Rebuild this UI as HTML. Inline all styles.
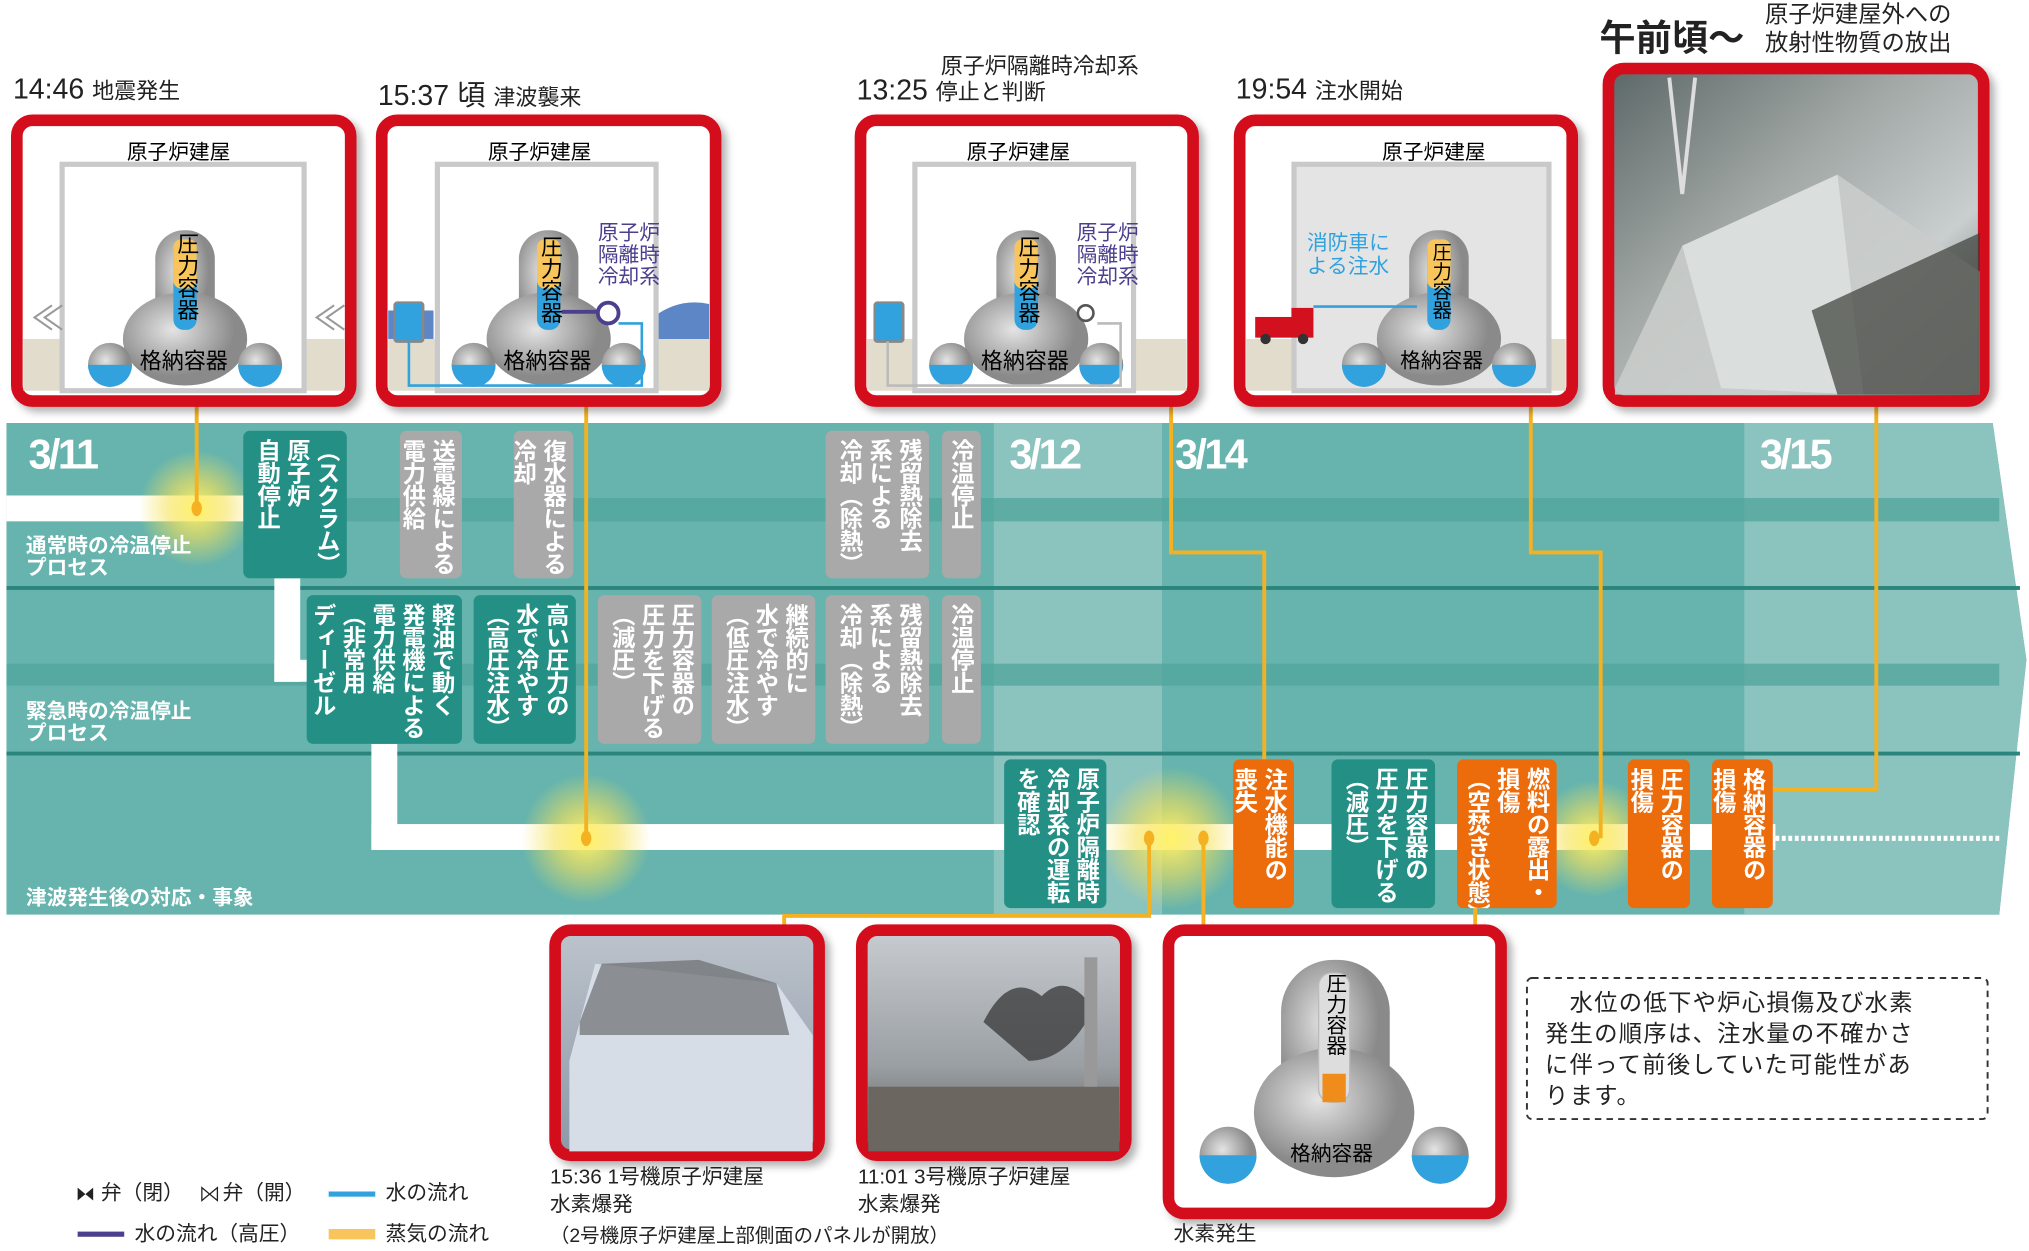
<!DOCTYPE html>
<html><head><meta charset="utf-8">
<style>
html,body{margin:0;padding:0;background:#fff;overflow:hidden}
#wrap{position:absolute;left:0;top:0;width:1568px;height:967px;transform-origin:0 0;transform:scale(1.29401,1.29369);font-family:"Liberation Sans","Noto Sans CJK JP",sans-serif}
.a{position:absolute;white-space:nowrap}
.v{position:absolute;writing-mode:vertical-rl;font-weight:bold;color:#fff;font-size:18px;line-height:23px;border-radius:5px;padding:6px 4px 0 0;box-sizing:border-box;white-space:nowrap;overflow:hidden;letter-spacing:-0.5px}
.t{background:#248f85}.g{background:#a9a9a9}.o{background:#ec6c0c}
.lab{position:absolute;color:#fff;font-weight:bold;font-size:16px;line-height:17px}
.d{position:absolute;color:#fff;font-weight:bold;font-size:32px;letter-spacing:-2px}
.tm{position:absolute;font-size:22px;color:#222;white-space:nowrap}
.cap{position:absolute;font-size:16px;color:#222;white-space:nowrap;line-height:21px}
</style></head><body>
<div id="wrap">
<svg width="1568" height="967" viewBox="0 0 1568 967" style="position:absolute;left:0;top:0">
<defs>
<radialGradient id="glow"><stop offset="0" stop-color="#fff36a" stop-opacity="1"/><stop offset="0.5" stop-color="#f6e25a" stop-opacity="0.6"/><stop offset="1" stop-color="#f6e25a" stop-opacity="0"/></radialGradient>
<radialGradient id="ves" cx="0.4" cy="0.4"><stop offset="0" stop-color="#e4e4e4"/><stop offset="1" stop-color="#8a8a8a"/></radialGradient>
<linearGradient id="ph1" x1="0" y1="0" x2="1" y2="1"><stop offset="0" stop-color="#5b6766"/><stop offset="0.4" stop-color="#a2a8a6"/><stop offset="0.7" stop-color="#c9cfcf"/><stop offset="1" stop-color="#4a4f4c"/></linearGradient>
<linearGradient id="ph2" x1="0" y1="0" x2="0" y2="1"><stop offset="0" stop-color="#bcc3cc"/><stop offset="1" stop-color="#8d98a6"/></linearGradient>
<linearGradient id="ph3" x1="0" y1="0" x2="0" y2="1"><stop offset="0" stop-color="#c8ccd0"/><stop offset="0.6" stop-color="#9a9fa4"/><stop offset="1" stop-color="#5d5a54"/></linearGradient>
<filter id="sh" x="-10%" y="-10%" width="130%" height="130%"><feDropShadow dx="4" dy="4" stdDeviation="3" flood-color="#000" flood-opacity="0.3"/></filter>
<g id="vessel">
<rect x="-23" y="178" width="46" height="80" rx="22" fill="url(#ves)"/>
<ellipse cx="0" cy="262" rx="48" ry="36" fill="url(#ves)"/>
<rect x="-9" y="185" width="18" height="70" rx="8" fill="#31a2dd"/>
<rect x="-9" y="185" width="18" height="38" rx="6" fill="#f7c55c"/>
<circle cx="-58" cy="282" r="17" fill="url(#ves)"/><path d="M-75,282 a17,17 0 0 0 34,0z" fill="#31a2dd"/>
<circle cx="58" cy="282" r="17" fill="url(#ves)"/><path d="M41,282 a17,17 0 0 0 34,0z" fill="#31a2dd"/>
</g>
</defs>

<path d="M5,327 H1540 L1566,510 L1545,707 H5 Z" fill="#66b4ad"/>
<rect x="768" y="327" width="130" height="380" fill="#8bc3bf"/>
<path d="M1348,327 H1540 L1566,510 L1545,707 H1348 Z" fill="#8bc3bf"/>
<rect x="5" y="385" width="1540" height="18" fill="#53a69e" opacity="0.8"/>
<rect x="5" y="513" width="1540" height="17" fill="#53a69e" opacity="0.8"/>
<rect x="5" y="453" width="1556" height="3" fill="#2b857c"/>
<rect x="5" y="581" width="1556" height="3" fill="#2b857c"/>
<rect x="5" y="383" width="185" height="20" fill="#fff"/>
<rect x="212" y="447" width="20" height="80" fill="#fff"/>
<rect x="212" y="510" width="28" height="17" fill="#fff"/>
<rect x="287" y="575" width="20" height="82" fill="#fff"/>
<rect x="287" y="637" width="1085" height="20" fill="#fff"/>
<line x1="1372" y1="648" x2="1545" y2="648" stroke="#fff" stroke-width="4" stroke-dasharray="3,2"/>
<circle cx="152" cy="393" r="45" fill="url(#glow)"/>
<circle cx="453" cy="648" r="50" fill="url(#glow)"/>
<circle cx="905" cy="648" r="55" fill="url(#glow)"/>
<circle cx="1232" cy="648" r="45" fill="url(#glow)"/>
<g stroke="#f4b223" stroke-width="3" fill="none">
<path d="M152,313 V393"/><path d="M453,313 V648"/>
<path d="M905,313 V427 H977 V587"/>
<path d="M1183,313 V427 H1237 V648"/>
<path d="M1450,313 V610 H1370"/>
<path d="M888,648 V708 H606 V716"/>
<path d="M930,648 V716"/>
<path d="M1140,702 V716"/>
</g>
<g fill="#f4b223"><ellipse cx="152" cy="393" rx="4" ry="6"/><ellipse cx="453" cy="648" rx="4" ry="6"/><ellipse cx="888" cy="648" rx="4" ry="6"/><ellipse cx="930" cy="648" rx="4" ry="6"/><ellipse cx="1232" cy="648" rx="4" ry="6"/></g>

<g filter="url(#sh)">
<rect x="13" y="93" width="258" height="217" rx="12" fill="#fff" stroke="#d3101e" stroke-width="9"/>
<rect x="295" y="93" width="258" height="217" rx="12" fill="#fff" stroke="#d3101e" stroke-width="9"/>
<rect x="665" y="93" width="257" height="217" rx="12" fill="#fff" stroke="#d3101e" stroke-width="9"/>
<rect x="958" y="93" width="257" height="217" rx="12" fill="#fff" stroke="#d3101e" stroke-width="9"/>
<rect x="1243" y="53" width="290" height="257" rx="12" fill="url(#ph1)" stroke="#d3101e" stroke-width="9"/>
<rect x="429" y="719" width="204" height="174" rx="12" fill="url(#ph2)" stroke="#d3101e" stroke-width="9"/>
<rect x="666" y="719" width="204" height="174" rx="12" fill="url(#ph3)" stroke="#d3101e" stroke-width="9"/>
<rect x="903" y="719" width="257" height="219" rx="12" fill="#fff" stroke="#d3101e" stroke-width="9"/>
</g>
<rect x="18" y="262" width="248" height="40" fill="#e2dccd"/>
<rect x="48" y="127" width="187" height="175" fill="#fff" stroke="#c9c9c9" stroke-width="4"/>
<use href="#vessel" x="143" y="0"/>
<text x="24" y="255" font-size="26" fill="#999">≪</text><text x="242" y="255" font-size="26" fill="#999">≪</text>
<rect x="300" y="262" width="248" height="40" fill="#e2dccd"/>
<rect x="300" y="240" width="35" height="22" fill="#5c86c6"/><path d="M505,262 V245 q20,-15 43,-10 V262z" fill="#5c86c6"/>
<rect x="338" y="127" width="169" height="175" fill="#fff" stroke="#c9c9c9" stroke-width="4"/>
<use href="#vessel" x="424" y="0"/>
<rect x="305" y="234" width="22" height="30" rx="2" fill="#31a2dd" stroke="#888" stroke-width="2"/>
<path d="M316,264 V298 H496 V250 H478" stroke="#31a2dd" stroke-width="2" fill="none"/>
<path d="M434,241 H462" stroke="#4b3f8e" stroke-width="3"/><circle cx="470" cy="242" r="8" fill="#fff" stroke="#4b3f8e" stroke-width="3"/>
<rect x="670" y="262" width="247" height="40" fill="#e2dccd"/>
<rect x="707" y="127" width="169" height="175" fill="#fff" stroke="#c9c9c9" stroke-width="4"/>
<use href="#vessel" x="793" y="0"/>
<rect x="676" y="234" width="22" height="30" rx="2" fill="#31a2dd" stroke="#888" stroke-width="2"/>
<path d="M686,264 V298 H866 V250 H848" stroke="#bbb" stroke-width="2" fill="none"/>
<circle cx="839" cy="242" r="6" fill="#fff" stroke="#555" stroke-width="2"/>
<rect x="963" y="262" width="247" height="40" fill="#e2dccd"/>
<rect x="1000" y="127" width="197" height="175" fill="#e4e4e4" stroke="#c9c9c9" stroke-width="4"/>
<use href="#vessel" x="1112" y="0"/>
<path d="M1015,237 H1095" stroke="#31a2dd" stroke-width="2"/>
<rect x="970" y="245" width="45" height="16" fill="#d3101e"/><rect x="998" y="238" width="17" height="10" fill="#d3101e"/>
<circle cx="978" cy="262" r="4" fill="#333"/><circle cx="1007" cy="262" r="4" fill="#333"/>
<path d="M1248,300 L1300,190 L1420,135 L1530,210 V305 H1248z" fill="#c9ccca" opacity="0.9"/>
<path d="M1330,300 L1300,190 L1420,135 L1440,305z" fill="#dfe3e2" opacity="0.8"/>
<path d="M1400,240 L1530,180 V305 H1420z" fill="#3b3d38" opacity="0.7"/>
<path d="M1290,60 L1300,150 M1310,60 L1300,150" stroke="#ddd" stroke-width="3"/>
<path d="M440,820 V890 H628 V800 L600,760 L460,745z" fill="#d7dde6"/>
<path d="M448,790 L465,745 L540,742 L600,760 L610,800 L448,800z" fill="#6b6d6f" opacity="0.7"/>
<path d="M760,790 q20,-40 45,-20 q20,-20 40,10 q-20,40 -50,40z" fill="#3e3e3e" opacity="0.8"/>
<rect x="671" y="840" width="194" height="50" fill="#6b6660"/>
<rect x="838" y="740" width="10" height="100" fill="#999"/>
<rect x="990" y="742" width="84" height="120" rx="40" fill="url(#ves)"/>
<ellipse cx="1031" cy="860" rx="62" ry="50" fill="url(#ves)"/>
<rect x="1019" y="752" width="24" height="100" rx="10" fill="#ddd" stroke="#bbb"/>
<rect x="1022" y="830" width="18" height="22" fill="#f08c1a"/>
<circle cx="949" cy="893" r="22" fill="url(#ves)"/><path d="M927,893 a22,22 0 0 0 44,0z" fill="#31a2dd"/>
<circle cx="1113" cy="893" r="22" fill="url(#ves)"/><path d="M1091,893 a22,22 0 0 0 44,0z" fill="#31a2dd"/>
<rect x="1180" y="756" width="356" height="109" rx="4" fill="#fff" stroke="#333" stroke-width="1.5" stroke-dasharray="5,4"/>
<path d="M60,918 l6,5 l-6,5z M72,918 l-6,5 l6,5z" fill="#222"/>
<path d="M156,918 l6,5 l-6,5z M168,918 l-6,5 l6,5z" fill="none" stroke="#222"/>
<rect x="254" y="921" width="36" height="4" fill="#31a2dd"/>
<rect x="60" y="952" width="36" height="4" fill="#4b3f8e"/>
<rect x="254" y="950" width="36" height="8" fill="#f7c55c"/>
</svg>

<div class="tm" style="left:10px;top:56px">14:46 <span style="font-size:17px">地震発生</span></div>
<div class="tm" style="left:292px;top:56px">15:37 頃 <span style="font-size:17px">津波襲来</span></div>
<div class="tm" style="left:727px;top:37px;font-size:17px">原子炉隔離時冷却系</div>
<div class="tm" style="left:662px;top:57px">13:25 <span style="font-size:17px">停止と判断</span></div>
<div class="tm" style="left:955px;top:56px">19:54 <span style="font-size:17px">注水開始</span></div>
<div class="tm" style="left:1236px;top:8px;font-size:28px;font-weight:bold">午前頃～</div>
<div class="tm" style="left:1364px;top:0px;font-size:18px;line-height:22px">原子炉建屋外への<br>放射性物質の放出</div>

<div class="a" style="left:98px;top:104px;font-size:16px">原子炉建屋</div>
<div class="a" style="left:377px;top:104px;font-size:16px">原子炉建屋</div>
<div class="a" style="left:747px;top:104px;font-size:16px">原子炉建屋</div>
<div class="a" style="left:1068px;top:104px;font-size:16px">原子炉建屋</div>
<div class="a" style="left:108px;top:265px;font-size:17px">格納容器</div>
<div class="a" style="left:389px;top:265px;font-size:17px">格納容器</div>
<div class="a" style="left:758px;top:265px;font-size:17px">格納容器</div>
<div class="a" style="left:1082px;top:265px;font-size:16px">格納容器</div>
<div class="a" style="left:134px;top:180px;font-size:17px;writing-mode:vertical-rl;line-height:18px">圧力容器</div>
<div class="a" style="left:415px;top:182px;font-size:17px;writing-mode:vertical-rl;line-height:18px">圧力容器</div>
<div class="a" style="left:784px;top:182px;font-size:17px;writing-mode:vertical-rl;line-height:18px">圧力容器</div>
<div class="a" style="left:1105px;top:187px;font-size:15px;writing-mode:vertical-rl;line-height:16px">圧力容器</div>
<div class="a" style="left:462px;top:172px;font-size:16px;line-height:17px;color:#4b3f8e">原子炉<br>隔離時<br>冷却系</div>
<div class="a" style="left:832px;top:172px;font-size:16px;line-height:17px;color:#4b3f8e">原子炉<br>隔離時<br>冷却系</div>
<div class="a" style="left:1010px;top:180px;font-size:16px;line-height:18px;color:#31a2dd">消防車に<br>よる注水</div>
<div class="a" style="left:1021px;top:752px;font-size:16px;writing-mode:vertical-rl;line-height:18px">圧力容器</div>
<div class="a" style="left:997px;top:878px;font-size:16px">格納容器</div>

<div class="d" style="left:22px;top:333px">3/11</div>
<div class="d" style="left:780px;top:333px">3/12</div>
<div class="d" style="left:908px;top:333px">3/14</div>
<div class="d" style="left:1360px;top:333px">3/15</div>
<div class="lab" style="left:20px;top:414px">通常時の冷温停止<br>プロセス</div>
<div class="lab" style="left:20px;top:542px">緊急時の冷温停止<br>プロセス</div>
<div class="lab" style="left:20px;top:686px">津波発生後の対応・事象</div>

<div class="v t" style="left:188px;top:333px;width:80px;height:114px">（スクラム）<br>原子炉<br>自動停止</div>
<div class="v g" style="left:309px;top:333px;width:48px;height:114px">送電線による<br>電力供給</div>
<div class="v g" style="left:397px;top:333px;width:46px;height:114px">復水器による<br>冷却</div>
<div class="v g" style="left:638px;top:333px;width:80px;height:114px">残留熱除去<br>系による<br>冷却（除熱）</div>
<div class="v g" style="left:728px;top:333px;width:30px;height:114px">冷温停止</div>
<div class="v t" style="left:237px;top:460px;width:120px;height:115px">軽油で動く<br>発電機による<br>電力供給<br>（非常用<br>ディーゼル<br>発電機）</div>
<div class="v t" style="left:366px;top:460px;width:79px;height:115px">高い圧力の<br>水で冷やす<br>（高圧注水）</div>
<div class="v g" style="left:462px;top:460px;width:80px;height:115px">圧力容器の<br>圧力を下げる<br>（減圧）</div>
<div class="v g" style="left:550px;top:460px;width:80px;height:115px">継続的に<br>水で冷やす<br>（低圧注水）</div>
<div class="v g" style="left:638px;top:460px;width:80px;height:115px">残留熱除去<br>系による<br>冷却（除熱）</div>
<div class="v g" style="left:728px;top:460px;width:30px;height:115px">冷温停止</div>
<div class="v t" style="left:776px;top:587px;width:79px;height:115px">原子炉隔離時<br>冷却系の運転<br>を確認</div>
<div class="v o" style="left:953px;top:587px;width:47px;height:115px">注水機能の<br>喪失</div>
<div class="v t" style="left:1029px;top:587px;width:80px;height:115px">圧力容器の<br>圧力を下げる<br>（減圧）</div>
<div class="v o" style="left:1126px;top:587px;width:77px;height:115px">燃料の露出・<br>損傷<br>（空焚き状態）</div>
<div class="v o" style="left:1258px;top:587px;width:48px;height:115px">圧力容器の<br>損傷</div>
<div class="v o" style="left:1323px;top:587px;width:47px;height:115px">格納容器の<br>損傷</div>

<div class="cap" style="left:425px;top:900px">15:36 1号機原子炉建屋<br>水素爆発</div>
<div class="cap" style="left:425px;top:945px;font-size:15px">（2号機原子炉建屋上部側面のパネルが開放）</div>
<div class="cap" style="left:663px;top:900px">11:01 3号機原子炉建屋<br>水素爆発</div>
<div class="cap" style="left:907px;top:944px">水素発生</div>
<div class="cap" style="left:1194px;top:763px;font-size:18px;line-height:24px;letter-spacing:1px">　水位の低下や炉心損傷及び水素<br>発生の順序は、注水量の不確かさ<br>に伴って前後していた可能性があ<br>ります。</div>
<div class="cap" style="left:78px;top:912px">弁（閉）</div>
<div class="cap" style="left:172px;top:912px">弁（開）</div>
<div class="cap" style="left:298px;top:912px">水の流れ</div>
<div class="cap" style="left:104px;top:944px">水の流れ（高圧）</div>
<div class="cap" style="left:298px;top:944px">蒸気の流れ</div>
</div>
</body></html>
